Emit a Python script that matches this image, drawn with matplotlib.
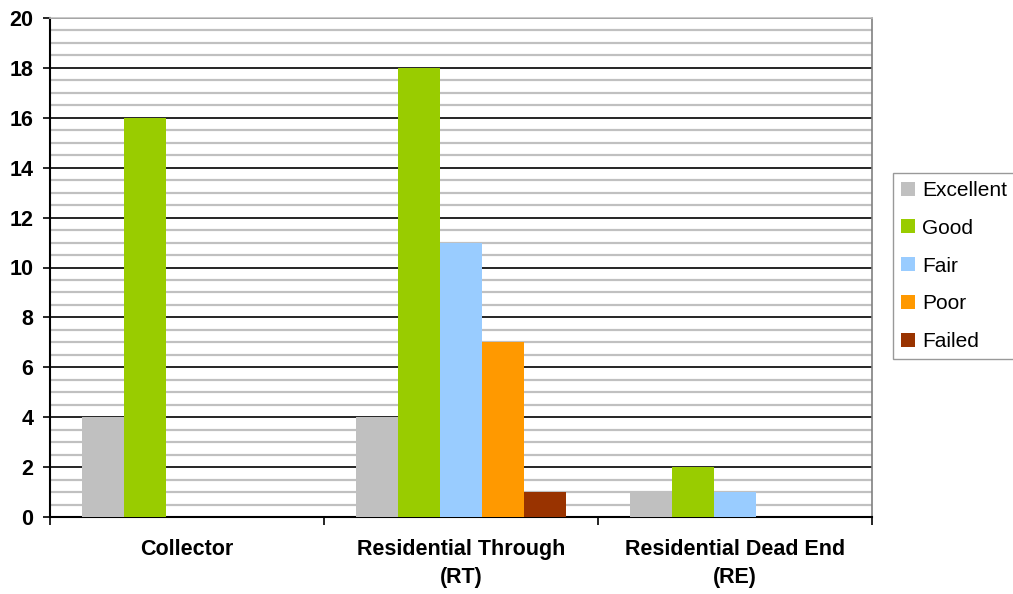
import matplotlib
matplotlib.use("Agg")
import matplotlib.pyplot as plt
import numpy as np

categories = ["Collector", "Residential Through\n(RT)", "Residential Dead End\n(RE)"]
series_names = ["Excellent", "Good", "Fair", "Poor", "Failed"]
excellent = [4, 4, 1]
good = [16, 18, 2]
fair = [0, 11, 1]
poor = [0, 7, 0]
failed = [0, 1, 0]
colors = ["#c0c0c0", "#99cc00", "#99ccff", "#ff9900", "#993300"]
yticks = [0, 2, 4, 6, 8, 10, 12, 14, 16, 18, 20]

plt.rcParams['font.family'] = ['Liberation Sans', 'DejaVu Sans']
fig = plt.figure(figsize=(10.13, 5.94), dpi=100)
ax = fig.add_axes([50/1013, 1-517/594, (872-50)/1013, (517-18)/594])

data = [excellent, good, fair, poor, failed]
x = np.arange(len(categories))
bw = 0.153
for i, (name, vals) in enumerate(zip(series_names, data)):
    ax.bar(x + (i - 2) * bw, vals, width=bw, color=colors[i], label=name, zorder=3)

ax.set_xlim(-0.5, 2.5)
ax.set_ylim(0, 20)
ax.set_yticks(yticks)
ax.set_yticklabels([str(v) for v in yticks], fontweight='bold', fontsize=15.5)
ax.set_yticks(np.arange(0, 20.01, 0.5), minor=True)
ax.yaxis.grid(True, which='minor', color='#c0c0c0', linewidth=1.6, zorder=0)
ax.yaxis.grid(True, which='major', color='black', linewidth=1.2, zorder=1)
ax.tick_params(axis='y', which='minor', length=0)
ax.tick_params(axis='y', which='major', length=5, width=1.2, direction='out', pad=7)

ax.set_xticks([-0.5, 0.5, 1.5, 2.5])
ax.set_xticklabels([])
ax.set_xticks(x, minor=True)
ax.set_xticklabels(categories, minor=True, fontweight='bold', fontsize=15.5, linespacing=1.45)
ax.tick_params(axis='x', which='minor', length=0, pad=16)
ax.tick_params(axis='x', which='major', length=6, width=1.2, direction='out')

ax.spines['left'].set_linewidth(1.5)
ax.spines['bottom'].set_linewidth(1.5)
ax.spines['right'].set_color('#808080')
ax.spines['right'].set_linewidth(1.2)
ax.spines['top'].set_color('#c0c0c0')
ax.spines['top'].set_linewidth(1.2)
ax.set_axisbelow(True)

leg = ax.legend(loc='center left', bbox_to_anchor=(893/1013, 1-266/594), bbox_transform=fig.transFigure,
                frameon=True, fancybox=False, fontsize=15, handlelength=0.65, handleheight=0.65,
                handletextpad=0.35, labelspacing=0.9, borderpad=0.4, borderaxespad=0,
                edgecolor='#808080')
leg.get_frame().set_linewidth(1.0)

fig.savefig("out.png", dpi=100)
